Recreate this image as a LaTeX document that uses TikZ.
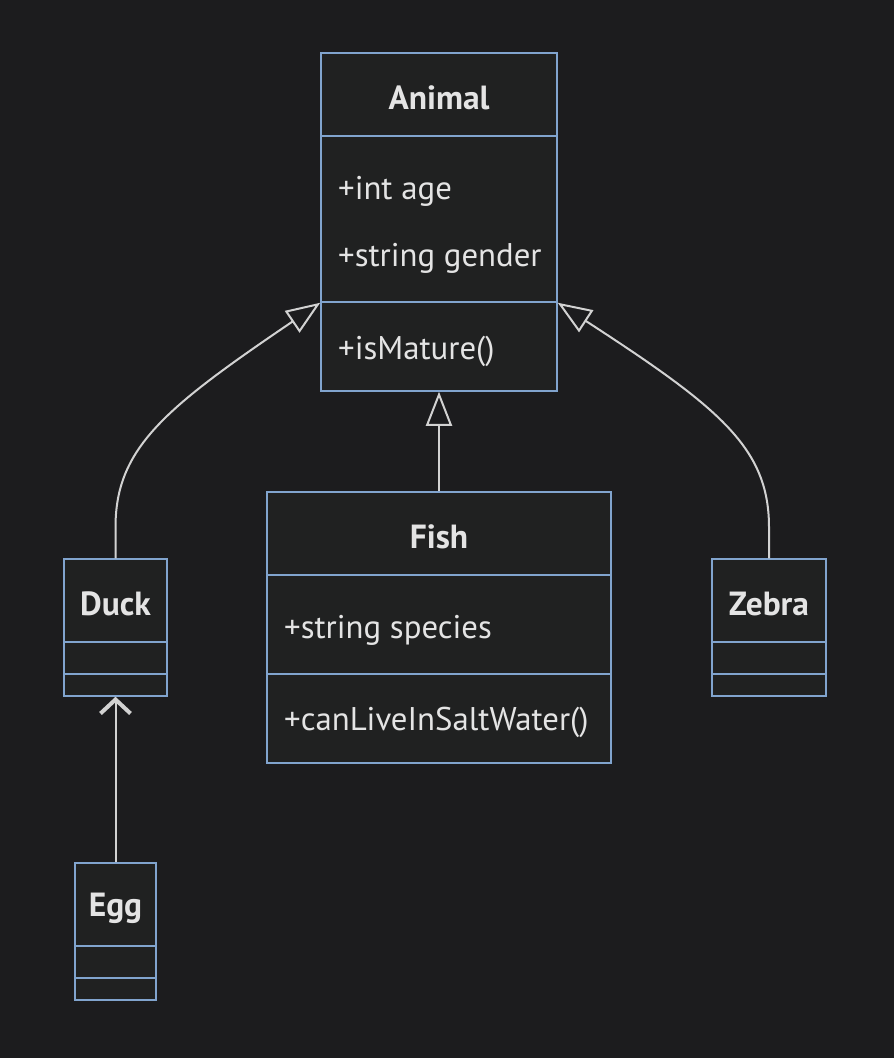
\documentclass[tikz,border=0pt]{standalone}
\usepackage{fontspec}
\setmainfont{PT Sans}
\usetikzlibrary{arrows.meta}
\definecolor{bg}{RGB}{28,28,30}
\definecolor{boxfill}{RGB}{32,33,33}
\definecolor{boxline}{RGB}{129,164,206}
\definecolor{ink}{RGB}{228,228,228}
\definecolor{wire}{RGB}{210,210,210}

\begin{document}
\begin{tikzpicture}[x=1pt, y=-1pt,
    cpart/.style={draw=boxline, fill=boxfill, line width=1.5pt, inner sep=0pt},
    classname/.style={font=\fontsize{33.5}{38}\selectfont\bfseries, text=ink},
    member/.style={anchor=west, inner sep=0pt, font=\fontsize{32.8}{38}\selectfont, text=ink},
    inherit/.style={draw=wire, line width=2pt, -{Triangle[open, length=34pt, width=26pt]}},
    assoc/.style={draw=wire, line width=2pt, -{Straight Barb[length=14pt, width=30pt, line width=4pt]}}]
    \fill[bg] (0,0) rectangle (894,1058);

    \node[cpart, classname, minimum width=236, minimum height=83] (animal) at (439,94.5) {};
    \node[classname] (animalname) at (439,98) {Animal};
    \node[cpart, minimum width=236, minimum height=166] (animalattr) at (439,219) {};
    \node[cpart, minimum width=236, minimum height=89] (animalops) at (439,346.5) {};
    \node[member] (age) at (338,191) {+int age};
    \node[member] (gender) at (338,258) {+string gender};
    \node[member] (mature) at (338,351) {+isMature()};

    \node[cpart, classname, minimum width=344, minimum height=83] (fish) at (439,533.5) {};
    \node[classname] (fishname) at (439,537) {Fish};
    \node[cpart, minimum width=344, minimum height=99] (fishattr) at (439,624.5) {};
    \node[cpart, minimum width=344, minimum height=89] (fishops) at (439,718.5) {};
    \node[member] (species) at (284,630) {+string species};
    \node[member] (saltwater) at (284,722) {+canLiveInSaltWater()};

    \node[cpart, classname, minimum width=103, minimum height=83] (duck) at (115.5,600.5) {};
    \node[classname] (duckname) at (115.5,604) {Duck};
    \node[cpart, minimum width=103, minimum height=32] (duckattr) at (115.5,658) {};
    \node[cpart, minimum width=103, minimum height=22] (duckops) at (115.5,685) {};

    \node[cpart, classname, minimum width=114, minimum height=83] (zebra) at (769,600.5) {};
    \node[classname] (zebraname) at (769,604) {Zebra};
    \node[cpart, minimum width=114, minimum height=32] (zebraattr) at (769,658) {};
    \node[cpart, minimum width=114, minimum height=22] (zebraops) at (769,685) {};

    \node[cpart, classname, minimum width=81, minimum height=83] (egg) at (115.5,904.5) {};
    \node[classname] (eggname) at (115.5,908) {Egg};
    \node[cpart, minimum width=81, minimum height=32] (eggattr) at (115.5,962) {};
    \node[cpart, minimum width=81, minimum height=22] (eggops) at (115.5,989) {};

    \draw[inherit] (fish.north) -- (animalops.south);
    \draw[inherit] (duck.north) -- ++(0,-31) .. controls (115.5,448) and (165,408) .. (animalattr.south west);
    \draw[inherit] (zebra.north) -- ++(0,-31) .. controls (769,448) and (720,408) .. (animalattr.south east);
    \draw[assoc] (egg.north) -- (duckops.south);
\end{tikzpicture}
\end{document}
